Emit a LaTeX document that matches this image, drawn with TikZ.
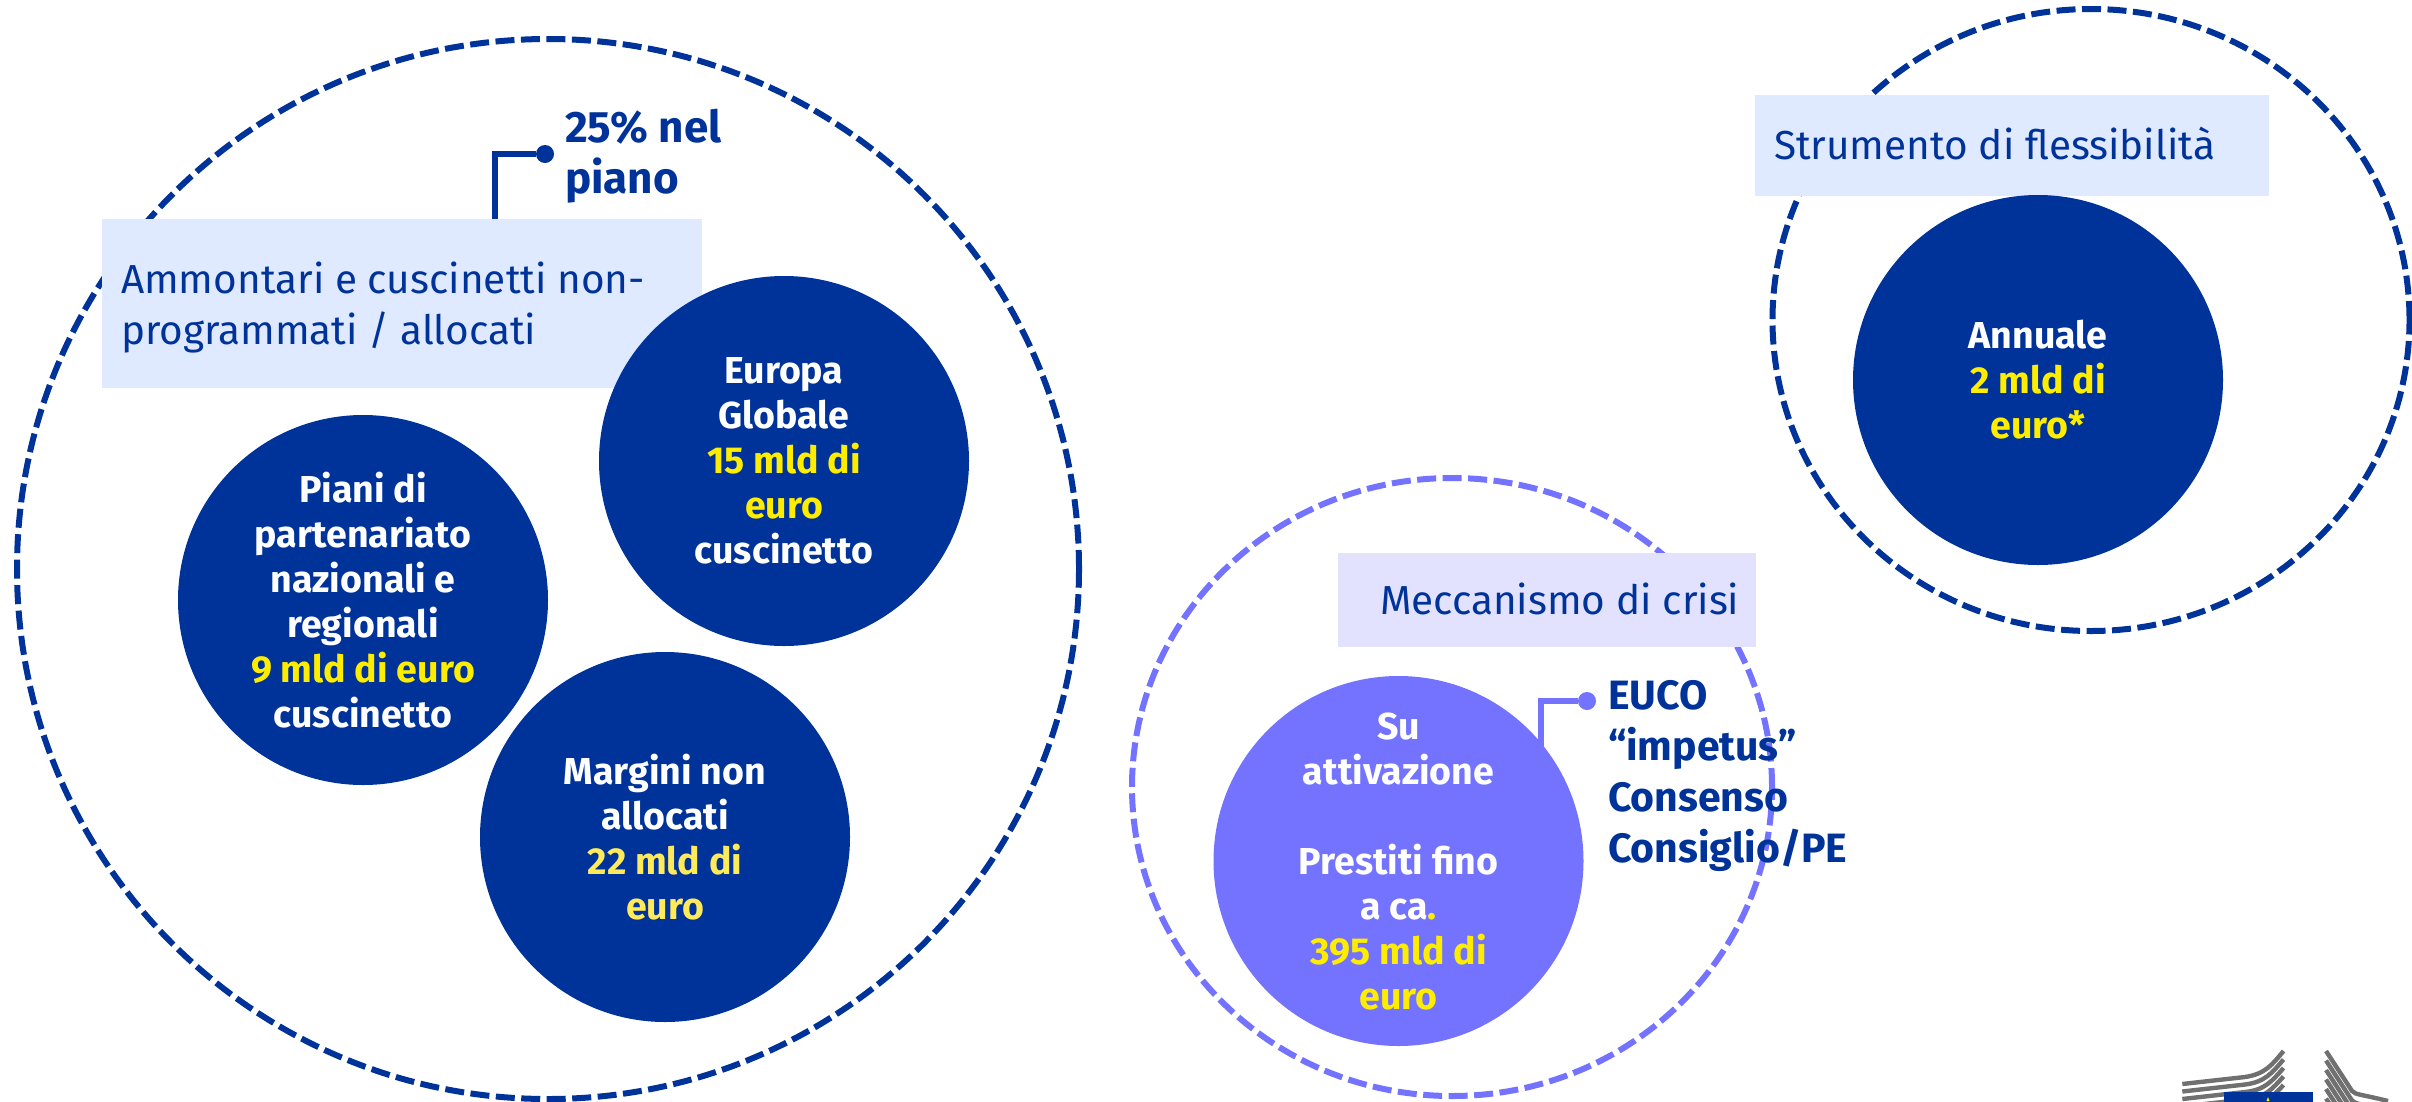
\documentclass[tikz,border=0pt]{standalone}
\usepackage{fontspec}
\setmainfont{Fira Sans}
\usetikzlibrary{shapes.geometric}
\definecolor{ecblue}{HTML}{003399}
\definecolor{ecviolet}{HTML}{7373FF}
\definecolor{ecyellow}{HTML}{FFED00}
\definecolor{ecyellowb}{HTML}{FFEB5A}
\definecolor{boxblue}{HTML}{DFE9FF}
\definecolor{boxviolet}{HTML}{E2E2FF}
\definecolor{loggray}{HTML}{707070}
\newcommand{\ylw}[1]{\textcolor{ecyellow}{#1}}
\tikzset{
 x=1pt,y=-1pt,
 dashring/.style n args={3}{ellipse,draw=#1,line width=6pt,dash pattern=on 19pt off 6.5pt,minimum width=#2pt,minimum height=#3pt,inner sep=0pt,outer sep=0pt},
 disc/.style={circle,fill=#1,minimum size=370pt,inner sep=0pt,outer sep=0pt,text=white,align=center,font=\fontsize{37.5}{45}\selectfont\bfseries},
 band/.style n args={3}{rectangle,fill=#1,minimum width=#2pt,minimum height=#3pt,inner sep=0pt,outer sep=0pt,anchor=north west},
 head/.style={inner sep=0pt,outer sep=0pt,text=ecblue,align=left,anchor=north west,font=\fontsize{40.5}{51}\selectfont},
 note/.style={inner sep=0pt,outer sep=0pt,text=ecblue,align=left,anchor=north west,font=\fontsize{41}{51}\selectfont\bfseries},
 tick/.style={circle,fill=#1,minimum size=18pt,inner sep=0pt,outer sep=0pt},
 lead/.style={draw=#1,line width=5.5pt,line join=miter},
 stripe/.style={draw=loggray,line width=4.4pt}
}
\begin{document}
\begin{tikzpicture}
\useasboundingbox (0,0) rectangle (2412,1101);
% dashed rings
\node[dashring={ecblue}{1062}{1060}] (big) at (548,569) {};
\node[dashring={ecviolet}{640}{618}] (crisring) at (1452,787) {};
\node[dashring={ecblue}{637}{622}] (flexring) at (2091,320) {};
% bands
\node[band={boxblue}{600}{169}] (b1) at (102,219) {};
\node[band={boxblue}{514}{101}] (b2) at (1755,95) {};
\node[band={boxviolet}{418}{94}] (b3) at (1338,553) {};
% discs
\node[disc=ecblue] (euro) at (784,461) {Europa\\Globale\\\ylw{15 mld di}\\\ylw{euro}\\cuscinetto};
\node[disc=ecblue] (piani) at (363,600) {Piani di\\partenariato\\nazionali e\\regionali\\\ylw{9 mld di euro}\\cuscinetto};
\node[disc=ecblue] (marg) at (665,837) {Margini non\\allocati\\\textcolor{ecyellowb}{22 mld di}\\\textcolor{ecyellowb}{euro}};
\node[disc=ecblue] (ann) at (2038,380) {Annuale\\\ylw{2 mld di}\\\ylw{euro*}};
\node[disc=ecviolet] (cris) at (1398.5,861) {Su\\attivazione\\[45pt]Prestiti fino\\a ca\ylw{.}\\\ylw{395 mld di}\\\ylw{euro}};
% leaders
\node[tick=ecblue] (d1) at (545,154) {};
\coordinate (c1) at (495,219);
\draw[lead=ecblue] (c1) |- (d1);
\node[tick=ecviolet] (d2) at (1587,701) {};
\coordinate (c2) at (1541,746);
\draw[lead=ecviolet] (c2) |- (d2);
% texts
\node[head] (t1) at (121,262) {Ammontari e cuscinetti non-\\programmati / allocati};
\node[head] (t2) at (1774,127) {Strumento di flessibilità};
\node[head] (t3) at (1380,583) {Meccanismo di crisi};
\node[note,font=\fontsize{44}{51}\selectfont\bfseries] (n1) at (565,109) {25\% nel\\piano};
\node[note] (n2) at (1608,680) {EUCO\\“impetus”\\Consenso\\Consiglio/PE};
% logo
\begin{scope}
\clip (2150,1040) rectangle (2412,1101);
\foreach \i in {0,1,2,3,4,5,6}{
 \draw[stripe] (2182.3,1084+7.5*\i) -- (2245,1077+7.5*\i) .. controls (2265,1074+8*\i) and (2272,1065+8*\i) .. (2283.5,1051+8.5*\i);
 \draw[stripe] (2326,1051+9.5*\i) -- (2352,1091+9.5*\i) .. controls (2356,1095+9.5*\i) and (2360,1094+9.5*\i) .. (2388,1101+9.5*\i);
}
\node[rectangle,fill=ecblue,anchor=north west,minimum width=89pt,minimum height=12pt,inner sep=0pt] (flag) at (2224,1092) {};
\fill[ecyellow] (2266.5,1101) -- (2268,1097) -- (2269.5,1101) -- cycle;
\end{scope}
\end{tikzpicture}
\end{document}
